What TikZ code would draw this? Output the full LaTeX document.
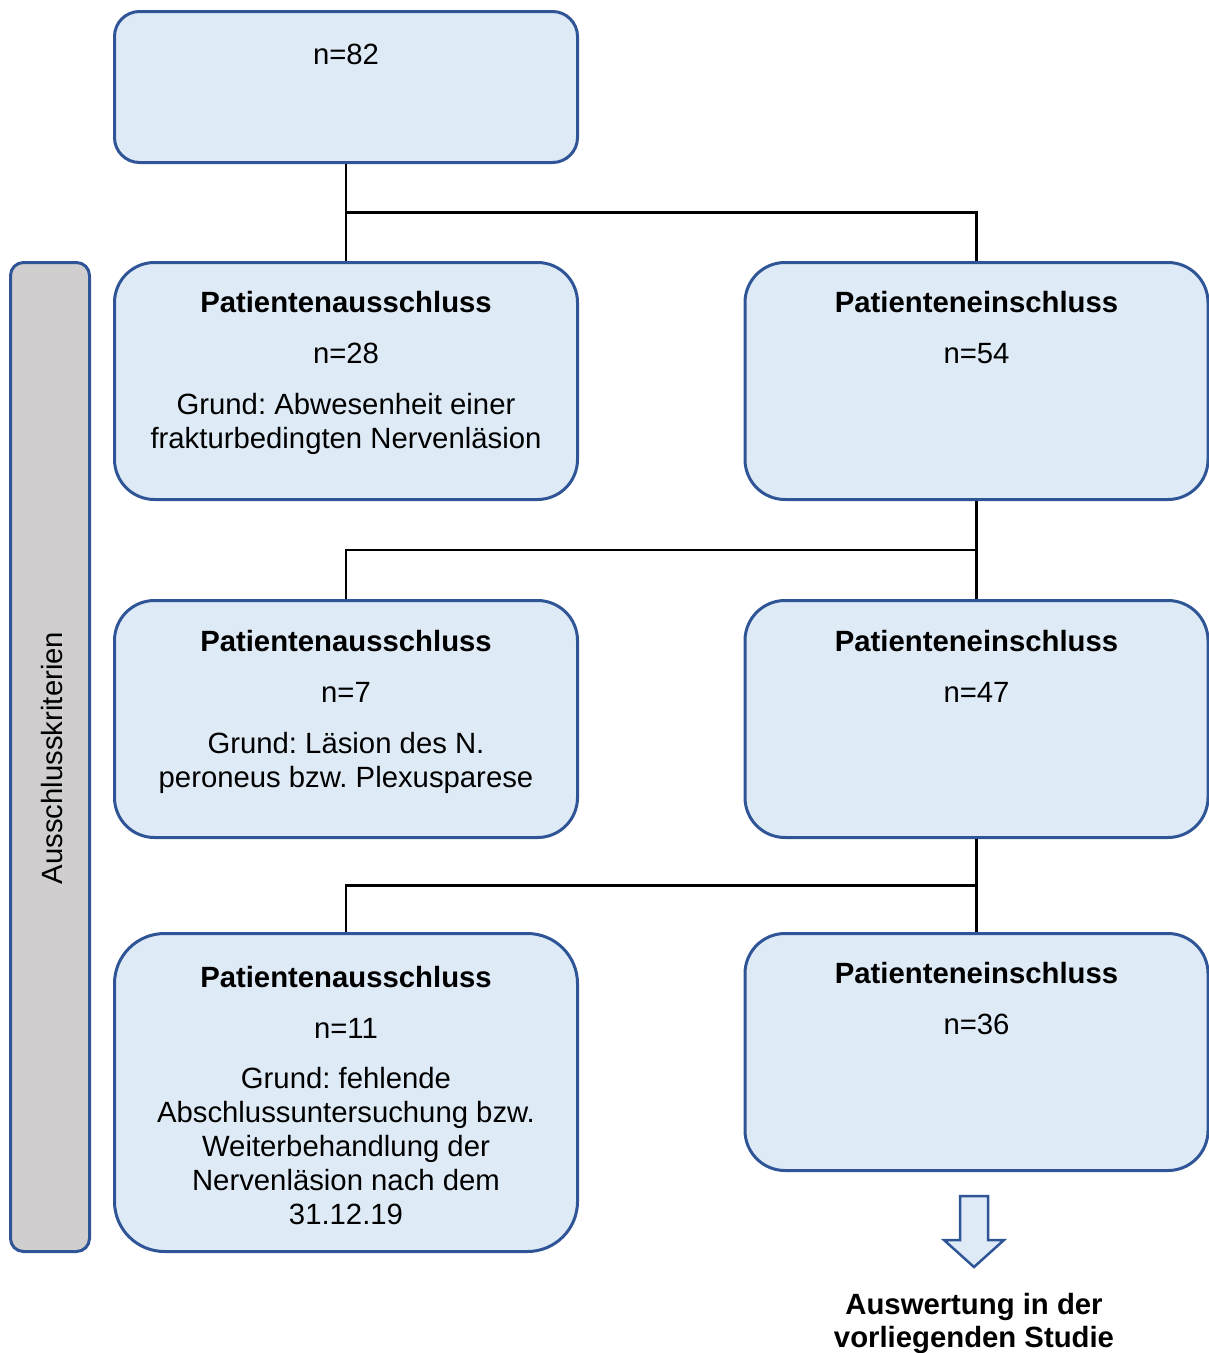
\documentclass[tikz,border=0pt]{standalone}
\usepackage{fontspec}
\setmainfont{Liberation Sans}
\usetikzlibrary{calc}
\frenchspacing

\definecolor{boxfill}{RGB}{222,235,247}
\definecolor{boxline}{RGB}{47,85,151}
\definecolor{barfill}{RGB}{208,206,206}

\tikzset{
    flowbox/.style={draw=boxline, fill=boxfill, line width=3pt, rounded corners=#1,
        minimum width=463pt, minimum height=237pt, inner sep=0pt},
    flowbox/.default=40pt,
    boxtext/.style={anchor=north, align=center, inner sep=0pt,
        font=\fontsize{29.3}{34}\selectfont},
    connector/.style={line width=2.5pt, black},
}

\begin{document}
\begin{tikzpicture}[x=1pt, y=-1pt]
    \useasboundingbox (0,0) rectangle (1209,1353);

    % Start (all patients)
    \node[flowbox=25pt, minimum height=151pt] (total) at (346,87) {};
    \node[boxtext] (totaltext) at (346,44) {n=82};

    % Side bar
    \node[draw=boxline, fill=barfill, line width=3pt, rounded corners=13pt,
        minimum width=79pt, minimum height=989pt, inner sep=0pt] (bar) at (50,757) {};
    \node[boxtext, anchor=center, rotate=90] (bartext) at (52,758) {Ausschlusskriterien};

    % Row 1
    \node[flowbox] (ex1) at (346,381) {};
    \node[flowbox] (in1) at (976.5,381) {};
    \node[boxtext] (ex1text) at (346,291) {
        \textbf{Patientenausschluss}\\[17pt]
        n=28\\[17pt]
        Grund: Abwesenheit einer\\
        frakturbedingten Nervenläsion
    };
    \node[boxtext] (in1text) at (976.5,291) {
        \textbf{Patienteneinschluss}\\[17pt]
        n=54
    };

    % Row 2
    \node[flowbox] (ex2) at (346,719) {};
    \node[flowbox] (in2) at (976.5,719) {};
    \node[boxtext] (ex2text) at (346,630) {
        \textbf{Patientenausschluss}\\[17pt]
        n=7\\[17pt]
        Grund: Läsion des N.\\
        peroneus bzw. Plexusparese
    };
    \node[boxtext] (in2text) at (976.5,630) {
        \textbf{Patienteneinschluss}\\[17pt]
        n=47
    };

    % Row 3
    \node[flowbox=50pt, minimum height=318pt] (ex3) at (346,1092.5) {};
    \node[flowbox] (in3) at (976.5,1052) {};
    \node[boxtext] (ex3text) at (346,966) {
        \textbf{Patientenausschluss}\\[17pt]
        n=11\\[16pt]
        Grund: fehlende\\
        Abschlussuntersuchung bzw.\\
        Weiterbehandlung der\\
        Nervenläsion nach dem\\
        31.12.19
    };
    \node[boxtext] (in3text) at (976.5,962) {
        \textbf{Patienteneinschluss}\\[17pt]
        n=36
    };

    % Connectors
    \coordinate (j1) at ($(total.south)!0.5!(ex1.north)$);
    \coordinate (j2) at ($(in1.south)!0.5!(in2.north)$);
    \coordinate (j3) at ($(in2.south)!0.5!(in3.north)$);
    \draw[connector] (total.south) -- (ex1.north);
    \draw[connector] (j1) -| (in1.north);
    \draw[connector] (in1.south) -- (in2.north);
    \draw[connector] (j2) -| (ex2.north);
    \draw[connector] (in2.south) -- (in3.north);
    \draw[connector] (j3) -| (ex3.north);

    % Result arrow
    \draw[draw=boxline, fill=boxfill, line width=2.5pt, line join=miter]
        (960,1196) -- (988,1196) -- (988,1240) -- (1004,1240) -- (974,1267)
        -- (944,1240) -- (960,1240) -- cycle;
    \node[boxtext, font=\fontsize{29.3}{33}\selectfont\bfseries] (result) at (974,1293)
        {Auswertung in der\\vorliegenden Studie};
\end{tikzpicture}
\end{document}
